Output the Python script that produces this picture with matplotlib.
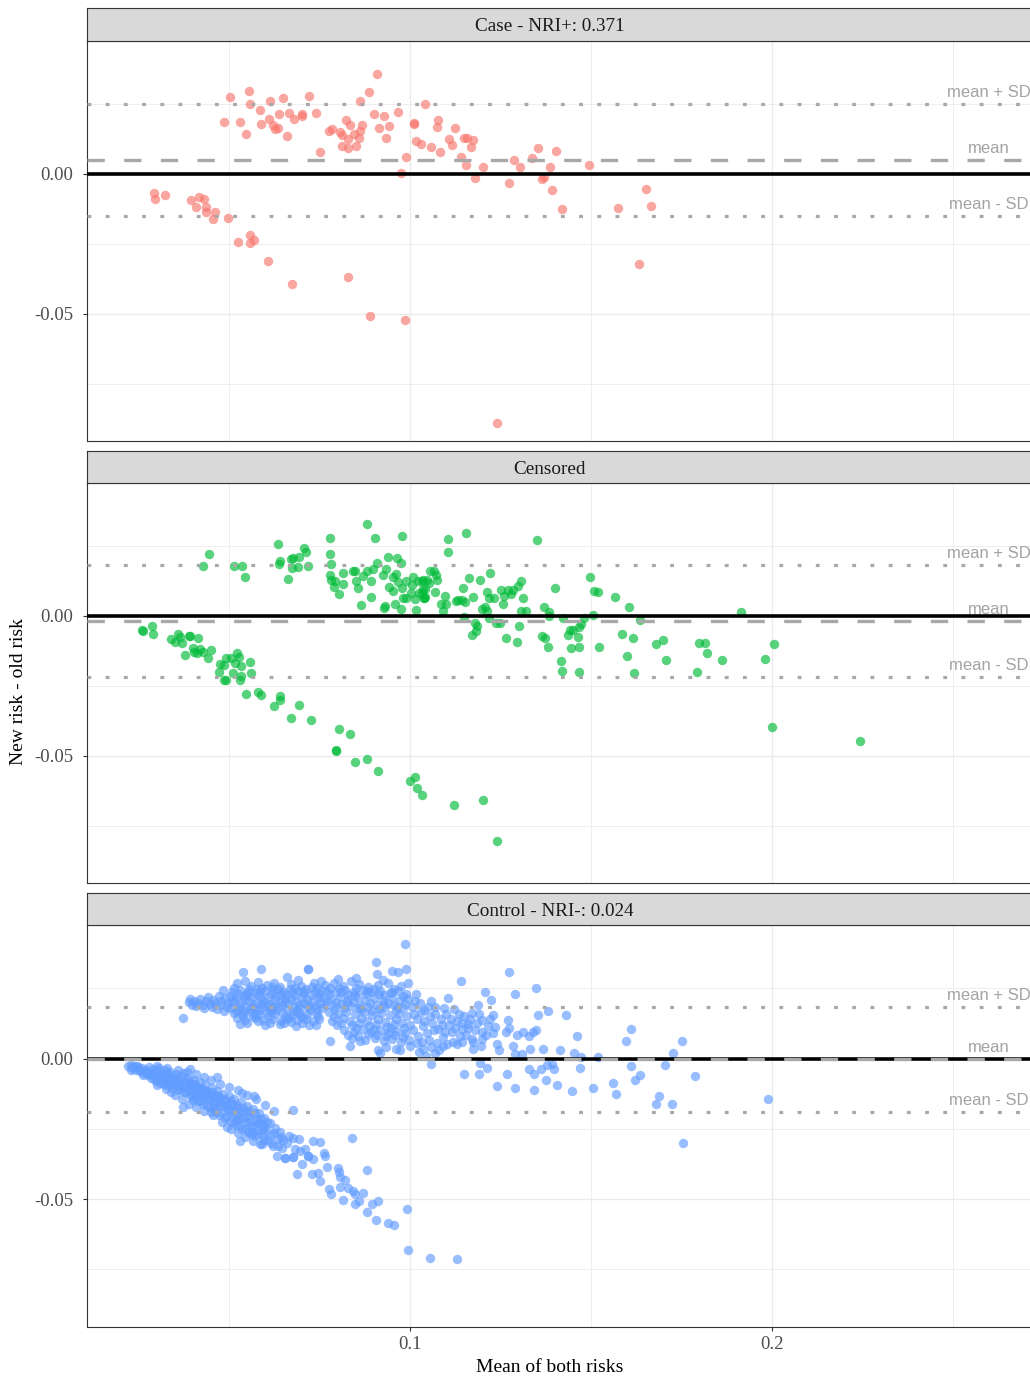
import numpy as np
import matplotlib
matplotlib.use("Agg")
import matplotlib.pyplot as plt

# ---- data (x = mean of both risks, y = new - old) ----
case_pts = [
    (0.0504, 0.0275), (0.0556, 0.0296), (0.0559, 0.0251), (0.0487, 0.0186), (0.0530, 0.0187),
    (0.0546, 0.0143), (0.0585, 0.0230), (0.0588, 0.0179), (0.0613, 0.0260), (0.0611, 0.0195),
    (0.0621, 0.0174), (0.0626, 0.0160), (0.0635, 0.0163), (0.0638, 0.0214), (0.0649, 0.0270),
    (0.0661, 0.0137), (0.0667, 0.0217), (0.0680, 0.0196), (0.0702, 0.0213), (0.0702, 0.0206),
    (0.0720, 0.0280), (0.0740, 0.0218), (0.0751, 0.0079), (0.0777, 0.0152), (0.0785, 0.0161),
    (0.0807, 0.0149), (0.0812, 0.0139), (0.0813, 0.0100), (0.0824, 0.0192), (0.0834, 0.0175),
    (0.0828, 0.0123), (0.0829, 0.0094), (0.0846, 0.0142), (0.0851, 0.0101), (0.0859, 0.0127),
    (0.0863, 0.0154), (0.0868, 0.0173), (0.0863, 0.0261), (0.0887, 0.0293), (0.0909, 0.0357),
    (0.0901, 0.0213), (0.0914, 0.0164), (0.0927, 0.0206), (0.0935, 0.0129), (0.0943, 0.0171),
    (0.0966, 0.0220), (0.0988, 0.0060), (0.0976, 0.0004), (0.1010, 0.0183), (0.1011, 0.0178),
    (0.1017, 0.0118), (0.1042, 0.0251), (0.1030, 0.0105),
    (0.0293, -0.0069), (0.0296, -0.0090), (0.0324, -0.0074), (0.0395, -0.0094), (0.0408, -0.0119),
    (0.0416, -0.0082), (0.0431, -0.0089), (0.0437, -0.0120), (0.0437, -0.0138), (0.0460, -0.0137),
    (0.0456, -0.0162), (0.0498, -0.0156), (0.0526, -0.0245), (0.0559, -0.0220), (0.0569, -0.0237),
    (0.0558, -0.0248), (0.0607, -0.0311), (0.0675, -0.0394), (0.0829, -0.0370), (0.0889, -0.0507),
    (0.0985, -0.0523),
    (0.1076, 0.0193), (0.1075, 0.0168), (0.1059, 0.0095), (0.1083, 0.0077), (0.1124, 0.0164),
    (0.1108, 0.0123), (0.1116, 0.0102), (0.1150, 0.0129), (0.1158, 0.0127), (0.1175, 0.0121),
    (0.1169, 0.0095), (0.1142, 0.0060), (0.1154, 0.0033), (0.1180, -0.0013), (0.1201, 0.0025),
    (0.1274, -0.0031), (0.1288, 0.0049), (0.1305, 0.0025), (0.1338, 0.0057), (0.1354, 0.0092),
    (0.1364, -0.0020), (0.1369, -0.0012), (0.1387, 0.0026), (0.1402, 0.0083), (0.1391, -0.0058),
    (0.1421, -0.0124), (0.1494, 0.0031), (0.1575, -0.0123), (0.1652, -0.0055), (0.1665, -0.0114),
    (0.1633, -0.0323), (0.1240, -0.0890),
]

censored_pts = [
    (0.0446, 0.0222), (0.0429, 0.0178), (0.0514, 0.0180), (0.0537, 0.0179), (0.0543, 0.0139),
    (0.0635, 0.0258), (0.0642, 0.0197), (0.0639, 0.0185), (0.0662, 0.0131), (0.0672, 0.0202),
    (0.0677, 0.0208), (0.0673, 0.0170), (0.0690, 0.0176), (0.0694, 0.0211), (0.0707, 0.0244),
    (0.0713, 0.0229), (0.0718, 0.0179), (0.0780, 0.0279), (0.0779, 0.0220), (0.0783, 0.0184),
    (0.0779, 0.0146), (0.0783, 0.0128), (0.0794, 0.0124), (0.0791, 0.0104), (0.0814, 0.0113),
    (0.0805, 0.0078), (0.0815, 0.0154), (0.0843, 0.0161), (0.0852, 0.0126), (0.0856, 0.0099),
    (0.0849, 0.0161), (0.0865, 0.0040), (0.0870, 0.0142), (0.0881, 0.0328), (0.0881, 0.0161),
    (0.0893, 0.0126), (0.0892, 0.0066), (0.0898, 0.0166), (0.0904, 0.0277), (0.0909, 0.0188),
    (0.0925, 0.0147), (0.0930, 0.0036), (0.0927, 0.0029), (0.0935, 0.0166), (0.0938, 0.0209),
    (0.0941, 0.0104), (0.0952, 0.0140), (0.0954, 0.0090), (0.0958, 0.0042), (0.0961, 0.0149),
    (0.0963, 0.0206), (0.0966, 0.0121), (0.0974, 0.0024), (0.0976, 0.0190), (0.0977, 0.0286),
    (0.0978, 0.0098), (0.0982, 0.0063), (0.0989, 0.0065), (0.0989, 0.0124), (0.1003, 0.0080),
    (0.1005, 0.0112), (0.1007, 0.0140), (0.1013, 0.0059), (0.1017, 0.0020), (0.1022, 0.0126),
    (0.1024, 0.0080), (0.1033, 0.0124), (0.1032, 0.0083), (0.1038, 0.0063), (0.1042, 0.0097),
    (0.0263, -0.0053), (0.0261, -0.0052), (0.0286, -0.0036), (0.0290, -0.0064), (0.0339, -0.0084),
    (0.0352, -0.0095), (0.0360, -0.0065), (0.0364, -0.0075), (0.0369, -0.0098), (0.0390, -0.0072),
    (0.0393, -0.0072), (0.0414, -0.0080), (0.0378, -0.0139), (0.0401, -0.0116), (0.0404, -0.0128),
    (0.0412, -0.0131), (0.0421, -0.0118), (0.0429, -0.0128), (0.0450, -0.0121), (0.0442, -0.0152),
    (0.0471, -0.0199), (0.0474, -0.0172), (0.0487, -0.0176), (0.0491, -0.0152), (0.0487, -0.0229),
    (0.0491, -0.0229), (0.0505, -0.0152), (0.0510, -0.0203), (0.0516, -0.0170), (0.0521, -0.0134),
    (0.0528, -0.0148), (0.0532, -0.0215), (0.0530, -0.0230), (0.0533, -0.0179), (0.0557, -0.0164),
    (0.0561, -0.0205), (0.0546, -0.0281), (0.0580, -0.0272), (0.0588, -0.0284), (0.0624, -0.0321),
    (0.0641, -0.0286), (0.0642, -0.0302), (0.0670, -0.0365), (0.0692, -0.0320), (0.0726, -0.0374),
    (0.0803, -0.0404), (0.0835, -0.0423), (0.0796, -0.0479), (0.0796, -0.0483), (0.0849, -0.0521),
    (0.0881, -0.0510), (0.0911, -0.0556), (0.1000, -0.0589), (0.1015, -0.0577), (0.1018, -0.0614),
    (0.1033, -0.0641), (0.1121, -0.0676), (0.1201, -0.0660), (0.1239, -0.0806),
    (0.1105, 0.0274), (0.1105, 0.0230), (0.1154, 0.0297), (0.1350, 0.0273), (0.1055, 0.0160),
    (0.1066, 0.0159), (0.1035, 0.0128), (0.1046, 0.0128), (0.1072, 0.0146), (0.1075, 0.0128),
    (0.1052, 0.0116), (0.1037, 0.0095), (0.1039, 0.0063), (0.1041, 0.0066), (0.1069, 0.0085),
    (0.1097, 0.0072), (0.1086, 0.0042), (0.1099, 0.0043), (0.1092, 0.0019), (0.1127, 0.0054),
    (0.1132, 0.0056), (0.1145, 0.0056), (0.1153, 0.0048), (0.1147, 0.0098), (0.1162, 0.0136),
    (0.1175, 0.0067), (0.1192, 0.0128), (0.1149, -0.0005), (0.1180, -0.0027), (0.1186, -0.0036),
    (0.1182, -0.0055), (0.1172, -0.0068), (0.1198, 0.0023), (0.1207, 0.0030), (0.1212, 0.0086),
    (0.1212, 0.0019), (0.1217, -0.0007), (0.1220, 0.0154), (0.1217, 0.0064), (0.1233, 0.0063),
    (0.1238, -0.0027), (0.1249, -0.0025), (0.1251, 0.0092), (0.1257, 0.0041), (0.1260, 0.0072),
    (0.1265, -0.0078), (0.1272, 0.0092), (0.1279, 0.0077), (0.1285, 0.0092), (0.1296, -0.0092),
    (0.1298, 0.0108), (0.1302, -0.0036), (0.1308, 0.0124), (0.1311, 0.0064), (0.1308, 0.0019),
    (0.1320, 0.0019), (0.1370, 0.0033), (0.1365, -0.0072), (0.1374, -0.0078), (0.1380, -0.0110),
    (0.1383, 0.0015), (0.1383, 0.0000), (0.1401, 0.0099), (0.1423, -0.0007), (0.1418, -0.0160),
    (0.1419, -0.0197), (0.1437, -0.0068), (0.1443, -0.0051), (0.1446, -0.0114), (0.1451, -0.0049),
    (0.1465, -0.0077), (0.1467, -0.0041), (0.1468, -0.0113), (0.1468, -0.0202), (0.1472, -0.0029),
    (0.1482, -0.0009), (0.1497, 0.0139), (0.1506, 0.0003), (0.1508, 0.0089), (0.1520, 0.0086),
    (0.1523, -0.0111), (0.1567, 0.0067), (0.1587, -0.0065), (0.1599, -0.0145), (0.1604, 0.0030),
    (0.1615, -0.0078), (0.1619, -0.0206), (0.1635, -0.0015), (0.1680, -0.0099), (0.1700, -0.0086),
    (0.1706, -0.0158), (0.1792, -0.0201), (0.1797, -0.0098), (0.1815, -0.0098), (0.1821, -0.0131),
    (0.1861, -0.0159), (0.1914, 0.0015), (0.1981, -0.0153), (0.2005, -0.0099), (0.2000, -0.0396),
    (0.2244, -0.0446),
]

# control: dense upper band
control_upper = [
    (0.0372, 0.0144), (0.0390, 0.0200), (0.0393, 0.0211), (0.0398, 0.0190), (0.0404, 0.0204),
    (0.0410, 0.0186), (0.0415, 0.0198), (0.0421, 0.0213), (0.0427, 0.0192), (0.0432, 0.0180),
    (0.0437, 0.0203), (0.0442, 0.0218), (0.0447, 0.0194), (0.0452, 0.0184), (0.0457, 0.0208),
    (0.0462, 0.0199), (0.0466, 0.0176), (0.0471, 0.0221), (0.0475, 0.0190), (0.0479, 0.0205),
    (0.0484, 0.0243), (0.0486, 0.0170), (0.0490, 0.0214), (0.0494, 0.0182), (0.0498, 0.0197),
    (0.0521, 0.0267), (0.0538, 0.0308), (0.0588, 0.0320), (0.0560, 0.0258), (0.0605, 0.0262),
    (0.0640, 0.0255), (0.0672, 0.0266), (0.0700, 0.0259), (0.0735, 0.0268), (0.0719, 0.0319),
    (0.0660, 0.0290),
    (0.0508, 0.0238), (0.0530, 0.0245), (0.0552, 0.0236), (0.0578, 0.0247), (0.0597, 0.0239),
    (0.0621, 0.0244), (0.0648, 0.0236), (0.0668, 0.0246), (0.0691, 0.0240), (0.0712, 0.0248),
    (0.0738, 0.0237), (0.0755, 0.0245),
    (0.0502, 0.0222), (0.0519, 0.0216), (0.0541, 0.0224), (0.0563, 0.0218), (0.0584, 0.0226),
    (0.0609, 0.0219), (0.0630, 0.0223), (0.0655, 0.0215), (0.0679, 0.0225), (0.0702, 0.0217),
    (0.0726, 0.0227), (0.0748, 0.0220),
    (0.0512, 0.0201), (0.0533, 0.0196), (0.0556, 0.0204), (0.0575, 0.0198), (0.0598, 0.0205),
    (0.0617, 0.0195), (0.0641, 0.0202), (0.0662, 0.0197), (0.0686, 0.0206), (0.0708, 0.0199),
    (0.0731, 0.0203), (0.0752, 0.0196),
    (0.0505, 0.0181), (0.0526, 0.0176), (0.0548, 0.0184), (0.0569, 0.0179), (0.0590, 0.0185),
    (0.0613, 0.0177), (0.0635, 0.0183), (0.0657, 0.0175), (0.0680, 0.0182), (0.0697, 0.0178),
    (0.0721, 0.0185), (0.0744, 0.0176),
    (0.0515, 0.0163), (0.0537, 0.0158), (0.0560, 0.0165), (0.0582, 0.0157), (0.0604, 0.0164),
    (0.0626, 0.0159), (0.0650, 0.0162), (0.0673, 0.0156), (0.0693, 0.0163), (0.0716, 0.0158),
    (0.0740, 0.0161),
    (0.0523, 0.0143), (0.0545, 0.0138), (0.0572, 0.0145), (0.0594, 0.0136), (0.0620, 0.0142),
    (0.0645, 0.0135), (0.0666, 0.0144), (0.0689, 0.0137), (0.0712, 0.0141), (0.0733, 0.0133),
    (0.0530, 0.0123), (0.0600, 0.0118), (0.0652, 0.0126), (0.0684, 0.0115), (0.0722, 0.0121),
    (0.0515, 0.0252), (0.0548, 0.0229), (0.0571, 0.0233), (0.0592, 0.0252), (0.0615, 0.0231),
    (0.0636, 0.0249), (0.0658, 0.0228), (0.0682, 0.0252), (0.0705, 0.0232), (0.0728, 0.0254),
    (0.0750, 0.0231), (0.0510, 0.0209), (0.0545, 0.0210), (0.0567, 0.0190), (0.0588, 0.0212),
    (0.0607, 0.0189), (0.0628, 0.0210), (0.0646, 0.0190), (0.0671, 0.0211), (0.0694, 0.0191),
    (0.0716, 0.0212), (0.0740, 0.0190), (0.0520, 0.0170), (0.0542, 0.0170), (0.0566, 0.0152),
    (0.0587, 0.0171), (0.0609, 0.0150), (0.0631, 0.0172), (0.0654, 0.0149), (0.0677, 0.0170),
    (0.0700, 0.0150), (0.0725, 0.0171), (0.0747, 0.0150), (0.0550, 0.0128), (0.0580, 0.0132),
    (0.0612, 0.0128), (0.0640, 0.0122), (0.0670, 0.0130), (0.0702, 0.0128), (0.0739, 0.0120),
    (0.0765, 0.0262), (0.0790, 0.0270), (0.0815, 0.0258), (0.0838, 0.0276), (0.0860, 0.0265),
    (0.0885, 0.0255), (0.0912, 0.0262), (0.0940, 0.0268), (0.0975, 0.0257),
    (0.0772, 0.0241), (0.0796, 0.0236), (0.0820, 0.0245), (0.0845, 0.0238), (0.0870, 0.0243),
    (0.0893, 0.0235), (0.0918, 0.0241), (0.0944, 0.0233), (0.0968, 0.0240), (0.0990, 0.0230),
    (0.0760, 0.0215), (0.0782, 0.0210), (0.0806, 0.0218), (0.0829, 0.0211), (0.0853, 0.0219),
    (0.0877, 0.0208), (0.0901, 0.0214), (0.0925, 0.0209), (0.0950, 0.0216), (0.0972, 0.0207),
    (0.0995, 0.0212),
    (0.0768, 0.0192), (0.0792, 0.0187), (0.0813, 0.0194), (0.0836, 0.0186), (0.0861, 0.0191),
    (0.0884, 0.0185), (0.0908, 0.0189), (0.0931, 0.0183), (0.0956, 0.0190), (0.0980, 0.0181),
    (0.0777, 0.0165), (0.0801, 0.0160), (0.0824, 0.0167), (0.0848, 0.0158), (0.0872, 0.0164),
    (0.0896, 0.0156), (0.0920, 0.0162), (0.0946, 0.0155), (0.0969, 0.0160), (0.0993, 0.0153),
    (0.0785, 0.0135), (0.0810, 0.0128), (0.0834, 0.0133), (0.0858, 0.0126), (0.0882, 0.0132),
    (0.0905, 0.0124), (0.0930, 0.0130), (0.0955, 0.0122), (0.0978, 0.0128), (0.1000, 0.0120),
    (0.0818, 0.0102), (0.0846, 0.0096), (0.0870, 0.0104), (0.0893, 0.0094), (0.0917, 0.0100),
    (0.0940, 0.0092), (0.0962, 0.0098), (0.0987, 0.0090),
    (0.0840, 0.0072), (0.0875, 0.0066), (0.0903, 0.0074), (0.0928, 0.0064), (0.0951, 0.0070),
    (0.0975, 0.0060), (0.0998, 0.0067),
    (0.0779, 0.0064), (0.0834, 0.0046), (0.0862, 0.0064), (0.0912, 0.0029), (0.0917, 0.0018),
    (0.0972, 0.0032), (0.1000, 0.0046), (0.1019, 0.0054), (0.0935, 0.0040), (0.0962, 0.0035),
    (0.0906, 0.0342), (0.0909, 0.0300), (0.0949, 0.0313), (0.0968, 0.0308), (0.0988, 0.0319),
    (0.0986, 0.0407), (0.0719, 0.0319),
    (0.0778, 0.0252), (0.0803, 0.0250), (0.0828, 0.0230), (0.0852, 0.0252), (0.0878, 0.0228),
    (0.0900, 0.0248), (0.0928, 0.0225), (0.0955, 0.0248), (0.0982, 0.0222), (0.0772, 0.0205),
    (0.0795, 0.0200), (0.0818, 0.0180), (0.0843, 0.0202), (0.0866, 0.0176), (0.0890, 0.0198),
    (0.0913, 0.0175), (0.0938, 0.0197), (0.0962, 0.0172), (0.0985, 0.0195), (0.0790, 0.0148),
    (0.0815, 0.0145), (0.0840, 0.0118), (0.0864, 0.0145), (0.0888, 0.0115), (0.0912, 0.0142),
    (0.0937, 0.0112), (0.0960, 0.0140), (0.0984, 0.0108), (0.0828, 0.0085), (0.0857, 0.0080),
    (0.0885, 0.0086), (0.0910, 0.0082), (0.0933, 0.0080), (0.0958, 0.0082), (0.0982, 0.0075),
    (0.0525, 0.0230), (0.0555, 0.0248), (0.0585, 0.0240), (0.0618, 0.0255), (0.0645, 0.0225),
    (0.0675, 0.0238), (0.0708, 0.0242), (0.0742, 0.0250), (0.0775, 0.0230), (0.0810, 0.0236),
    (0.0848, 0.0226), (0.0880, 0.0242), (0.0915, 0.0230), (0.0950, 0.0238), (0.0528, 0.0188),
    (0.0558, 0.0175), (0.0592, 0.0195), (0.0622, 0.0185), (0.0655, 0.0205), (0.0688, 0.0170),
    (0.0718, 0.0190), (0.0758, 0.0180), (0.0790, 0.0175), (0.0826, 0.0200), (0.0858, 0.0180),
    (0.0895, 0.0170), (0.0928, 0.0195), (0.0965, 0.0185), (0.0540, 0.0150), (0.0575, 0.0160),
    (0.0615, 0.0168), (0.0660, 0.0140), (0.0705, 0.0145), (0.0750, 0.0140), (0.0798, 0.0120),
    (0.0852, 0.0110), (0.0900, 0.0105), (0.0948, 0.0108),
    (0.0545, 0.0275), (0.0580, 0.0272), (0.0625, 0.0270), (0.0690, 0.0278), (0.0755, 0.0275),
    (0.0800, 0.0282), (0.0850, 0.0285), (0.0925, 0.0278), (0.0995, 0.0270),
    (0.1005, 0.0185), (0.1012, 0.0160), (0.1020, 0.0140), (0.1028, 0.0198), (0.1035, 0.0115),
    (0.1040, 0.0172), (0.1048, 0.0090), (0.1055, 0.0150), (0.1062, 0.0128), (0.1070, 0.0185),
    (0.1078, 0.0105), (0.1085, 0.0140), (0.1092, 0.0075), (0.1100, 0.0160), (0.1108, 0.0120),
    (0.1115, 0.0095), (0.1122, 0.0175), (0.1130, 0.0135), (0.1138, 0.0080), (0.1150, 0.0150),
    (0.1160, 0.0110), (0.1172, 0.0070), (0.1185, 0.0125), (0.1195, 0.0045), (0.1210, 0.0085),
    (0.1222, 0.0140), (0.1032, 0.0060), (0.1058, 0.0040), (0.1080, 0.0030), (0.1103, 0.0050),
    (0.1025, 0.0025), (0.1045, 0.0010),
    (0.1008, 0.0100), (0.1015, 0.0205), (0.1022, 0.0080), (0.1030, 0.0165), (0.1038, 0.0135),
    (0.1050, 0.0185), (0.1052, 0.0065), (0.1065, 0.0100), (0.1068, 0.0160), (0.1075, 0.0055),
    (0.1088, 0.0118), (0.1095, 0.0180), (0.1098, 0.0095), (0.1112, 0.0140), (0.1118, 0.0060),
    (0.1125, 0.0110), (0.1135, 0.0160), (0.1145, 0.0125), (0.1155, 0.0085), (0.1165, 0.0140),
    (0.1180, 0.0100), (0.1190, 0.0160), (0.1200, 0.0070), (0.1215, 0.0115), (0.1230, 0.0090),
    (0.1035, 0.0035), (0.1068, 0.0020), (0.1090, 0.0045),
]

# control: dense lower band
control_lower = [
    (0.0221, -0.0025), (0.0228, -0.0022), (0.0232, -0.0035), (0.0238, -0.0028), (0.0244, -0.0040),
    (0.0249, -0.0030), (0.0255, -0.0045), (0.0260, -0.0035), (0.0265, -0.0052), (0.0270, -0.0040),
    (0.0275, -0.0060), (0.0280, -0.0048), (0.0285, -0.0068), (0.0290, -0.0036), (0.0294, -0.0055),
    (0.0298, -0.0080), (0.0302, -0.0042),
    (0.0306, -0.0065), (0.0310, -0.0088), (0.0314, -0.0050), (0.0318, -0.0075), (0.0322, -0.0040),
    (0.0326, -0.0095), (0.0330, -0.0060), (0.0334, -0.0082), (0.0338, -0.0048), (0.0342, -0.0105),
    (0.0346, -0.0070), (0.0350, -0.0090), (0.0354, -0.0055), (0.0358, -0.0112), (0.0362, -0.0078),
    (0.0366, -0.0098), (0.0370, -0.0062), (0.0373, -0.0174), (0.0375, -0.0120), (0.0379, -0.0085),
    (0.0383, -0.0105), (0.0387, -0.0068), (0.0391, -0.0130), (0.0392, -0.0037), (0.0395, -0.0092),
    (0.0399, -0.0115),
    (0.0403, -0.0075), (0.0407, -0.0140), (0.0411, -0.0100), (0.0415, -0.0122), (0.0419, -0.0085),
    (0.0423, -0.0150), (0.0427, -0.0110), (0.0431, -0.0132), (0.0435, -0.0095), (0.0439, -0.0165),
    (0.0443, -0.0120), (0.0447, -0.0145), (0.0450, -0.0190), (0.0452, -0.0105), (0.0456, -0.0175),
    (0.0460, -0.0130), (0.0464, -0.0155), (0.0466, -0.0067), (0.0468, -0.0115), (0.0472, -0.0200),
    (0.0476, -0.0142), (0.0480, -0.0168), (0.0484, -0.0125), (0.0488, -0.0210), (0.0492, -0.0152),
    (0.0494, -0.0245), (0.0496, -0.0180), (0.0499, -0.0135),
    (0.0503, -0.0222), (0.0507, -0.0160), (0.0511, -0.0195), (0.0515, -0.0145), (0.0519, -0.0235),
    (0.0523, -0.0175), (0.0527, -0.0210), (0.0530, -0.0293), (0.0532, -0.0155), (0.0535, -0.0123),
    (0.0537, -0.0250), (0.0541, -0.0188), (0.0545, -0.0225), (0.0549, -0.0168), (0.0553, -0.0262),
    (0.0557, -0.0200), (0.0561, -0.0240), (0.0565, -0.0180), (0.0569, -0.0132), (0.0572, -0.0275),
    (0.0576, -0.0215), (0.0580, -0.0255), (0.0584, -0.0195), (0.0586, -0.0304), (0.0590, -0.0235),
    (0.0594, -0.0275), (0.0598, -0.0212),
    (0.0603, -0.0258), (0.0608, -0.0290), (0.0612, -0.0230), (0.0617, -0.0272), (0.0622, -0.0310),
    (0.0626, -0.0248), (0.0632, -0.0346), (0.0636, -0.0285), (0.0641, -0.0262), (0.0646, -0.0318),
    (0.0650, -0.0290), (0.0655, -0.0355), (0.0660, -0.0300), (0.0665, -0.0275), (0.0676, -0.0352),
    (0.0678, -0.0283), (0.0682, -0.0323), (0.0687, -0.0410), (0.0693, -0.0286), (0.0696, -0.0329),
    (0.0701, -0.0376), (0.0710, -0.0323), (0.0719, -0.0346), (0.0678, -0.0182),
    (0.0235, -0.0030), (0.0252, -0.0038), (0.0268, -0.0046), (0.0283, -0.0055), (0.0297, -0.0063),
    (0.0312, -0.0070), (0.0328, -0.0077), (0.0344, -0.0085), (0.0360, -0.0093), (0.0376, -0.0100),
    (0.0392, -0.0108), (0.0408, -0.0118), (0.0424, -0.0128), (0.0440, -0.0138), (0.0456, -0.0150),
    (0.0472, -0.0160), (0.0488, -0.0172), (0.0504, -0.0185), (0.0520, -0.0198), (0.0536, -0.0212),
    (0.0552, -0.0226), (0.0568, -0.0240), (0.0584, -0.0230), (0.0600, -0.0245),
    (0.0230, -0.0040), (0.0246, -0.0025), (0.0262, -0.0058), (0.0278, -0.0030), (0.0292, -0.0072),
    (0.0308, -0.0035), (0.0320, -0.0090), (0.0332, -0.0050), (0.0340, -0.0095), (0.0352, -0.0068),
    (0.0364, -0.0110), (0.0372, -0.0050), (0.0381, -0.0120), (0.0389, -0.0080), (0.0397, -0.0135),
    (0.0405, -0.0090), (0.0413, -0.0150), (0.0421, -0.0105), (0.0429, -0.0160), (0.0437, -0.0115),
    (0.0445, -0.0172), (0.0454, -0.0120), (0.0462, -0.0185), (0.0470, -0.0135), (0.0478, -0.0195),
    (0.0486, -0.0145), (0.0495, -0.0205), (0.0505, -0.0150), (0.0513, -0.0225), (0.0521, -0.0165),
    (0.0529, -0.0240), (0.0539, -0.0175), (0.0547, -0.0250), (0.0555, -0.0185), (0.0563, -0.0260),
    (0.0571, -0.0195), (0.0579, -0.0270), (0.0588, -0.0215), (0.0596, -0.0290), (0.0606, -0.0225),
    (0.0615, -0.0300), (0.0625, -0.0265), (0.0635, -0.0310), (0.0645, -0.0280),
    (0.0300, -0.0025), (0.0330, -0.0032), (0.0360, -0.0040), (0.0385, -0.0048), (0.0410, -0.0055),
    (0.0430, -0.0065), (0.0450, -0.0078), (0.0475, -0.0090), (0.0500, -0.0100), (0.0525, -0.0112),
    (0.0550, -0.0128), (0.0575, -0.0145), (0.0600, -0.0165), (0.0625, -0.0185),
    (0.0300, -0.0095), (0.0325, -0.0110), (0.0350, -0.0130), (0.0370, -0.0145), (0.0390, -0.0160),
    (0.0410, -0.0172), (0.0430, -0.0185), (0.0455, -0.0200), (0.0480, -0.0225), (0.0505, -0.0250),
    (0.0525, -0.0265), (0.0545, -0.0280), (0.0565, -0.0292), (0.0590, -0.0305),
    (0.0315, -0.0060), (0.0335, -0.0068), (0.0355, -0.0080), (0.0375, -0.0088), (0.0395, -0.0098),
    (0.0415, -0.0110), (0.0435, -0.0125), (0.0455, -0.0138), (0.0475, -0.0150), (0.0495, -0.0165),
    (0.0515, -0.0180), (0.0535, -0.0195), (0.0555, -0.0210), (0.0575, -0.0225), (0.0595, -0.0255),
    (0.0340, -0.0118), (0.0400, -0.0148), (0.0460, -0.0180), (0.0520, -0.0218), (0.0560, -0.0270),
]

# control: scattered points outside the two dense bands
control_sparse = [
    (0.1142, 0.0276), (0.1274, 0.0307), (0.1347, 0.0250), (0.1207, 0.0238), (0.1291, 0.0230),
    (0.1225, 0.0208), (0.1106, 0.0214), (0.1057, 0.0203), (0.1017, 0.0230), (0.1188, 0.0189),
    (0.1230, 0.0156), (0.1354, 0.0156), (0.1381, 0.0170), (0.1431, 0.0156), (0.1460, 0.0081),
    (0.1270, 0.0136), (0.1264, 0.0096), (0.1273, 0.0110), (0.1296, 0.0085), (0.1313, 0.0096),
    (0.1329, 0.0079), (0.1341, 0.0094), (0.1348, 0.0100), (0.1236, 0.0113), (0.1198, 0.0096),
    (0.1199, 0.0136), (0.1170, 0.0163), (0.1161, 0.0124), (0.1145, 0.0104), (0.1144, 0.0058),
    (0.1129, 0.0052), (0.1175, 0.0058), (0.1175, 0.0035), (0.1240, 0.0052), (0.1245, 0.0029),
    (0.1285, 0.0046), (0.1291, 0.0015), (0.1309, 0.0017), (0.1331, 0.0033), (0.1367, 0.0033),
    (0.1414, 0.0032), (0.1452, 0.0020), (0.1472, 0.0005), (0.1519, 0.0007), (0.1597, 0.0064),
    (0.1610, 0.0104), (0.1727, 0.0018), (0.1752, 0.0063),
    (0.1057, -0.0020), (0.1148, -0.0056), (0.1190, -0.0056), (0.1212, -0.0035), (0.1194, -0.0015),
    (0.1241, -0.0099), (0.1267, -0.0055), (0.1290, -0.0105), (0.1330, -0.0037), (0.1343, -0.0055),
    (0.1343, -0.0111), (0.1361, -0.0039), (0.1376, -0.0075), (0.1378, -0.0022), (0.1391, -0.0020),
    (0.1399, -0.0039), (0.1406, -0.0093), (0.1447, -0.0117), (0.1470, -0.0033), (0.1505, -0.0106),
    (0.1562, -0.0088), (0.1569, -0.0126), (0.1611, -0.0027), (0.1622, -0.0077), (0.1636, -0.0058),
    (0.1687, -0.0132), (0.1680, -0.0162), (0.1705, -0.0023), (0.1724, -0.0162), (0.1786, -0.0063),
    (0.1989, -0.0143), (0.1754, -0.0300),
    (0.0733, -0.0295), (0.0751, -0.0296), (0.0762, -0.0335), (0.0766, -0.0346), (0.0770, -0.0386),
    (0.0801, -0.0388), (0.0803, -0.0402), (0.0807, -0.0421), (0.0821, -0.0431), (0.0733, -0.0358),
    (0.0728, -0.0412), (0.0747, -0.0406), (0.0751, -0.0436), (0.0777, -0.0465), (0.0781, -0.0481),
    (0.0807, -0.0457), (0.0829, -0.0461), (0.0843, -0.0471), (0.0849, -0.0481), (0.0869, -0.0477),
    (0.0816, -0.0502), (0.0848, -0.0519), (0.0860, -0.0508), (0.0880, -0.0395), (0.0895, -0.0517),
    (0.0912, -0.0508), (0.0880, -0.0546), (0.0905, -0.0576), (0.0940, -0.0586), (0.0956, -0.0592),
    (0.0991, -0.0537), (0.0995, -0.0681), (0.1055, -0.0710), (0.1130, -0.0714), (0.0841, -0.0282),
    (0.0655, -0.0355), (0.0676, -0.0352), (0.0719, -0.0346),
]

panel_titles = ["Case - NRI+: 0.371", "Censored", "Control - NRI-: 0.024"]
panel_colors = ["#F8766D", "#00BA38", "#619CFF"]
panel_means = [0.0050, -0.0018, -0.0003]
panel_sds = [0.0200, 0.0200, 0.0186]
control_pts = control_upper + control_lower + control_sparse
panel_points = [case_pts, censored_pts, control_pts]

# ---- layout (pixel positions of the reference) ----
W, H = 1030, 1378
fig = plt.figure(figsize=(W / 100, H / 100), dpi=100)
serif = ["Liberation Serif", "DejaVu Serif"]
sans = ["Liberation Sans", "DejaVu Sans"]

left_px, right_px = 87, 1050
panel_px = [(41, 441), (483, 883), (925, 1327)]
strip_px = [(8, 41), (451, 483), (893, 925)]
xlim = (0.1 + (left_px - 410) / 3620, 0.1 + (right_px - 410) / 3620)
ylim = (-0.0955, 0.0475)
label_x = 0.2598
grid_col = "#EBEBEB"
line_col = "#A8A8A8"

for i in range(3):
    top, bot = panel_px[i]
    ax = fig.add_axes([left_px / W, 1 - bot / H, (right_px - left_px) / W, (bot - top) / H])
    pts = np.array(panel_points[i])
    ax.scatter(pts[:, 0], pts[:, 1], s=46, color=panel_colors[i], alpha=0.65,
               linewidths=0, zorder=2)

    ax.set_xlim(*xlim)
    ax.set_ylim(*ylim)
    ax.set_xticks([0.1, 0.2])
    ax.set_xticks([0.05, 0.15, 0.25], minor=True)
    ax.set_yticks([-0.05, 0.0])
    ax.set_yticks([-0.075, -0.025, 0.025], minor=True)
    ax.set_yticklabels(["-0.05", "0.00"], family=serif, fontsize=13.5, color="#4D4D4D")
    ax.grid(True, which="major", color=grid_col, lw=1.0, zorder=0)
    ax.grid(True, which="minor", color=grid_col, lw=0.6, zorder=0)
    ax.set_axisbelow(True)
    ax.tick_params(axis="y", which="major", length=3, width=0.8, color="#333333", pad=7)
    ax.tick_params(which="minor", length=0)
    if i < 2:
        ax.tick_params(axis="x", which="major", length=0, labelbottom=False)
    else:
        ax.tick_params(axis="x", which="major", length=3, width=0.8, color="#333333", pad=3.5)
        ax.set_xticklabels(["0.1", "0.2"], family=serif, fontsize=13.5, color="#4D4D4D")
    for sp in ax.spines.values():
        sp.set_color("#333333")
        sp.set_linewidth(0.8)

    m, sd = panel_means[i], panel_sds[i]
    ax.axhline(0, color="black", lw=2.6, zorder=3)
    ax.axhline(m + sd, color=line_col, lw=2.3, ls=(0, (1.2, 4.5)), zorder=4)
    ax.axhline(m - sd, color=line_col, lw=2.3, ls=(0, (1.2, 4.5)), zorder=4)
    ax.axhline(m, color=line_col, lw=2.4, ls=(0, (5.2, 5.8)), zorder=4)
    for yv, txt in [(m + sd, "mean + SD"), (m, "mean"), (m - sd, "mean - SD")]:
        ax.annotate(txt, (label_x, yv), xytext=(0, 5), textcoords="offset points",
                    ha="center", va="baseline", color="#A3A3A3", fontsize=12,
                    family=sans, zorder=5, annotation_clip=False)

    st, sb = strip_px[i]
    sax = fig.add_axes([left_px / W, 1 - sb / H, (right_px - left_px) / W, (sb - st) / H])
    sax.set_facecolor("#D9D9D9")
    sax.set_xticks([])
    sax.set_yticks([])
    for sp in sax.spines.values():
        sp.set_color("#333333")
        sp.set_linewidth(0.8)
    fig.text(550 / W, 1 - ((st + sb) / 2 + 2) / H, panel_titles[i], ha="center", va="center",
             family=serif, fontsize=13.8, color="#1A1A1A")

fig.text(550 / W, 1 - 1368 / H, "Mean of both risks", ha="center", va="center",
         family=serif, fontsize=14)
fig.text(19 / W, 1 - 692 / H, "New risk - old risk", ha="center", va="center",
         rotation=90, family=serif, fontsize=14)

fig.savefig("out.png", dpi=100)
